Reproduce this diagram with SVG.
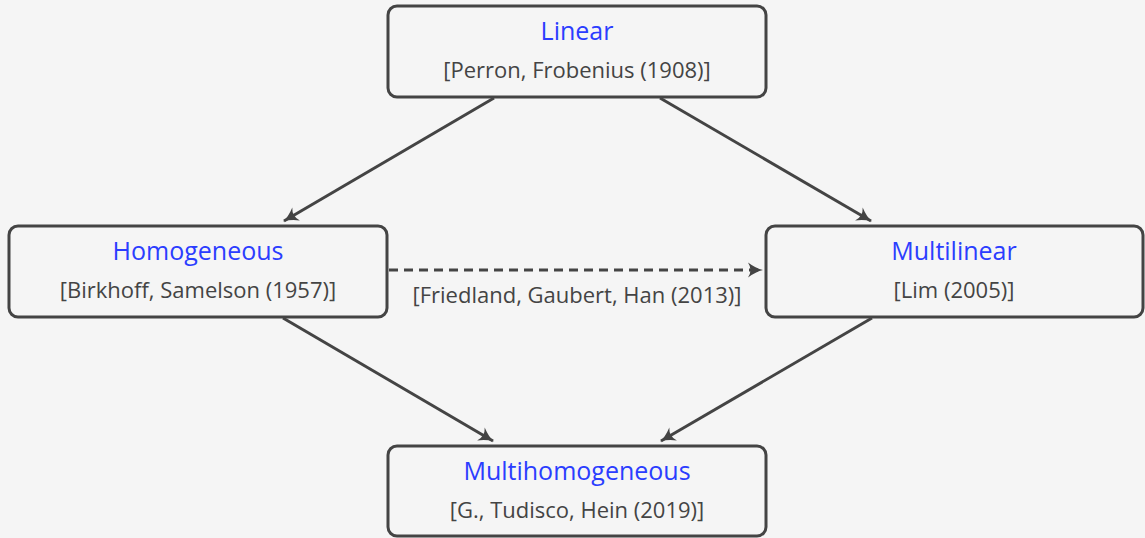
<svg xmlns="http://www.w3.org/2000/svg" width="1145" height="538" viewBox="0 0 1145 538">
  <style>
    .box { fill: #f5f5f5; stroke: #444444; stroke-width: 3; }
    .title { font-family: "Open Sans", "Liberation Sans", sans-serif; font-size: 25px; fill: #2b3dff; text-anchor: middle; }
    .ref { font-family: "Open Sans", "Liberation Sans", sans-serif; font-size: 22px; fill: #444444; text-anchor: middle; }
    .edge { fill: none; stroke: #444444; stroke-width: 3; marker-end: url(#head); }
    .dashed { stroke-dasharray: 9 6; }
  </style>
  <defs>
    <marker id="head" viewBox="-16 -9 18 18" refX="0" refY="0" markerWidth="18" markerHeight="18" markerUnits="userSpaceOnUse" orient="auto">
      <path d="M-14,-7.5 Q-6,-1.5 1,0 Q-6,1.5 -14,7.5 Q-9,0 -14,-7.5 Z" fill="#444444"/>
    </marker>
  </defs>
  <rect width="1145" height="538" fill="#f5f5f5"/>

  <g id="edges">
    <line class="edge" x1="494" y1="98" x2="284" y2="221"/>
    <line class="edge" x1="660" y1="98" x2="871" y2="221"/>
    <line class="edge" x1="283" y1="318" x2="493" y2="441"/>
    <line class="edge" x1="872" y1="318" x2="661" y2="441"/>
    <line class="edge dashed" x1="389" y1="270" x2="762" y2="270"/>
    <text class="ref" x="577" y="303">[Friedland, Gaubert, Han (2013)]</text>
  </g>

  <g id="linear">
    <rect class="box" x="388" y="6" width="378" height="91" rx="9"/>
    <text class="title" x="577" y="40">Linear</text>
    <text class="ref" x="577" y="78">[Perron, Frobenius (1908)]</text>
  </g>

  <g id="homogeneous">
    <rect class="box" x="9" y="226" width="378" height="91" rx="9"/>
    <text class="title" x="198" y="260">Homogeneous</text>
    <text class="ref" x="198" y="298">[Birkhoff, Samelson (1957)]</text>
  </g>

  <g id="multilinear">
    <rect class="box" x="766" y="226" width="377" height="91" rx="9"/>
    <text class="title" x="954" y="260">Multilinear</text>
    <text class="ref" x="954" y="298">[Lim (2005)]</text>
  </g>

  <g id="multihomogeneous">
    <rect class="box" x="388" y="446" width="378" height="90" rx="9"/>
    <text class="title" x="577" y="480">Multihomogeneous</text>
    <text class="ref" x="577" y="518">[G., Tudisco, Hein (2019)]</text>
  </g>
</svg>
